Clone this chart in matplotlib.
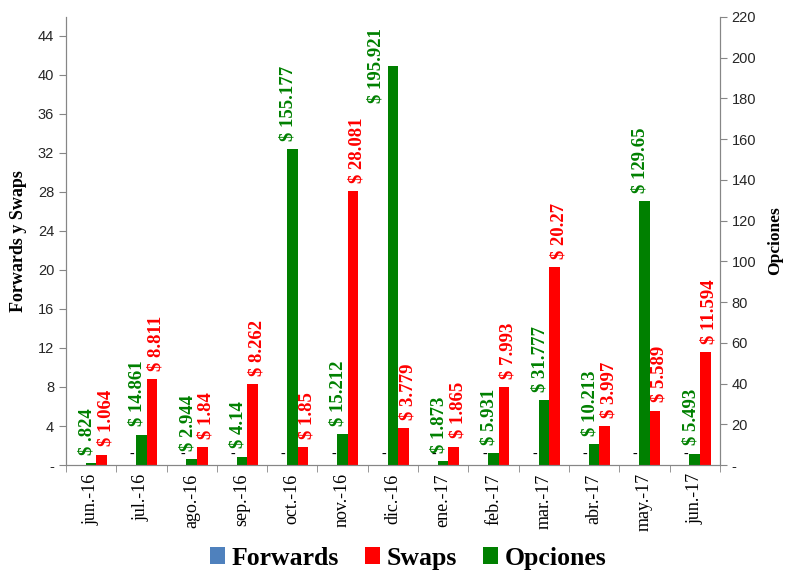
import matplotlib.pyplot as plt
import numpy as np
from matplotlib.ticker import FuncFormatter

meses = ['jun.-16', 'jul.-16', 'ago.-16', 'sep.-16', 'oct.-16', 'nov.-16', 'dic.-16',
         'ene.-17', 'feb.-17', 'mar.-17', 'abr.-17', 'may.-17', 'jun.-17']
forwards = [0, 0, 0, 0, 0, 0, 0, 0, 0, 0, 0, 0, 0]
swaps = [1.064, 8.811, 1.84, 8.262, 1.85, 28.081, 3.779, 1.865, 7.993, 20.27, 3.997, 5.589, 11.594]
opciones = [0.824, 14.861, 2.944, 4.14, 155.177, 15.212, 195.921, 1.873, 5.931, 31.777, 10.213, 129.65, 5.493]

AZUL = '#4F81BD'
ROJO = '#FF0000'
VERDE = '#008000'
SERIF = 'Liberation Serif'
SANS = 'Liberation Sans'


def etiqueta(v):
    s = '%g' % v
    if s.startswith('0.'):
        s = s[1:]
    return '$ ' + s


def guion(v, pos):
    if v == 0:
        return '-'
    return '%d' % v


fig = plt.figure(figsize=(7.85, 5.71), dpi=100)
ax = fig.add_axes([0.084, 0.1856, 0.833, 0.785])
ax2 = ax.twinx()

x = np.arange(len(meses))
w = 0.21

ax.bar(x - w, forwards, w, color=AZUL, label='Forwards')
ax.bar(x + w, swaps, w, color=ROJO, label='Swaps')
ax2.bar(x, opciones, w, color=VERDE, label='Opciones')

ax.set_xlim(-0.5, len(meses) - 0.5)
ax.set_ylim(0, 45.95)
ax2.set_ylim(0, 220)

# etiquetas de datos
for i in range(len(meses)):
    ax.annotate('-', (x[i] - w, forwards[i]), xytext=(1, 3), textcoords='offset points',
                ha='center', va='bottom', fontsize=10, color='black', family=SERIF)
    ax.annotate(etiqueta(swaps[i]), (x[i] + w, swaps[i]), xytext=(3, 6), textcoords='offset points',
                ha='center', va='bottom', rotation=90, fontsize=13.5, fontweight='bold',
                color=ROJO, family=SERIF)
    if opciones[i] > 180:
        # no cabe encima: al lado de la barra
        ax2.annotate(etiqueta(opciones[i]), (x[i], opciones[i]), xytext=(-12, 0),
                     textcoords='offset points', ha='center', va='center', rotation=90,
                     fontsize=13.5, fontweight='bold', color=VERDE, family=SERIF)
    else:
        ax2.annotate(etiqueta(opciones[i]), (x[i], opciones[i]), xytext=(-3, 6),
                     textcoords='offset points', ha='center', va='bottom', rotation=90,
                     fontsize=13.5, fontweight='bold', color=VERDE, family=SERIF)

ax.set_yticks(np.arange(0, 45, 4))
ax2.set_yticks(np.arange(0, 221, 20))
ax.yaxis.set_major_formatter(FuncFormatter(guion))
ax2.yaxis.set_major_formatter(FuncFormatter(guion))

ax.set_xticks(x)
ax.set_xticklabels(meses, rotation=90, fontsize=13, family=SERIF)
ax.set_xticks(np.arange(-0.5, len(meses), 1), minor=True)
ax.tick_params(axis='x', which='major', length=0, pad=6)
ax.tick_params(axis='x', which='minor', length=5, color='#868686')

for a in (ax, ax2):
    a.tick_params(axis='y', length=5, color='#868686', labelsize=10.5, labelcolor='#262626')
    for lab in a.get_yticklabels():
        lab.set_family(SANS)
    for s in a.spines.values():
        s.set_color('#868686')
    a.spines['top'].set_visible(False)

ax.set_ylabel('Forwards y Swaps', fontsize=13, fontweight='bold', family=SERIF, labelpad=8)
ax2.set_ylabel('Opciones', fontsize=12.5, fontweight='bold', family=SERIF, rotation=90, labelpad=8)

h1, l1 = ax.get_legend_handles_labels()
h2, l2 = ax2.get_legend_handles_labels()
fig.legend(h1 + h2, l1 + l2, loc='lower center', bbox_to_anchor=(0.52, -0.038), ncol=3,
           frameon=False, handlelength=0.6, handleheight=0.6, handletextpad=0.25,
           columnspacing=1.0, prop={'family': SERIF, 'weight': 'bold', 'size': 18.5})

fig.savefig('out.png', dpi=100)
